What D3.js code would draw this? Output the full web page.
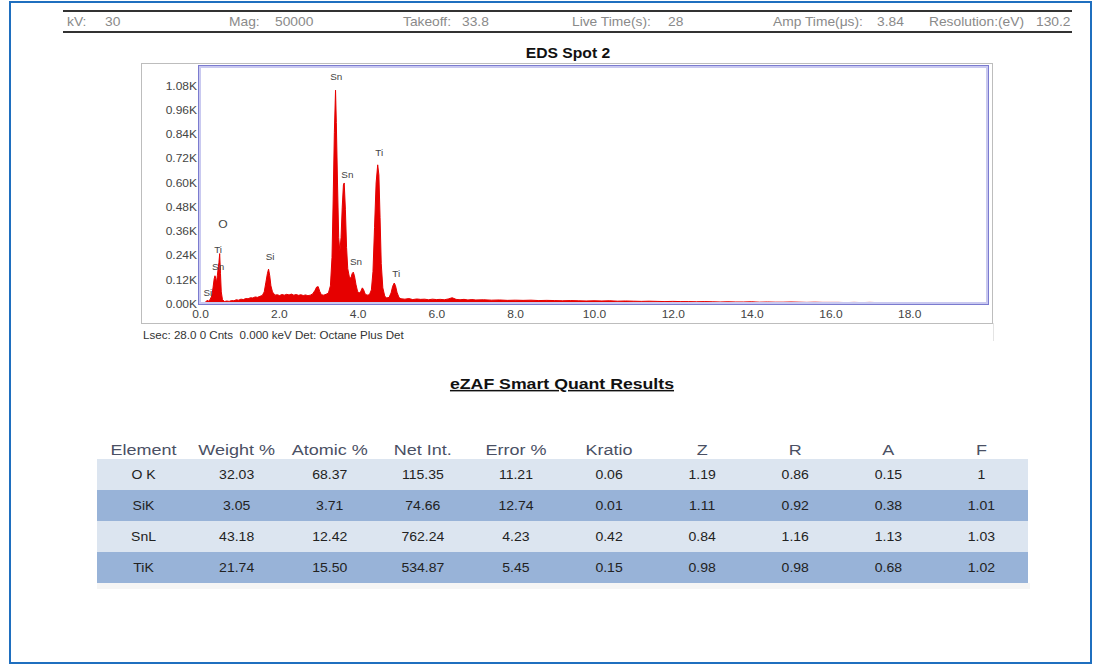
<!DOCTYPE html>
<html lang="en">
<head>
    <meta charset="UTF-8">
    <title>EDS Spot 2</title>
    <script src="https://d3js.org/d3.v7.min.js"></script>
    <style>
        body {
            margin: 0;
            padding: 0;
            background: #fff;
            font-family: "Liberation Sans", Arial, sans-serif;
        }
        .hdr { font-size: 12px; fill: #8a8a8a; }
        .title { font-size: 14px; font-weight: bold; fill: #111; text-anchor: middle; }
        .axis text { font-size: 10px; fill: #444; font-family: "Liberation Sans", Arial, sans-serif; }
        .peak { font-size: 9px; fill: #444; text-anchor: middle; }
        .foot { font-size: 10px; fill: #333; }
        .quant { font-size: 15px; font-weight: bold; fill: #111; text-anchor: middle; text-decoration: underline; }
        .th { font-size: 15px; fill: #4a5064; text-anchor: middle; }
        .td { font-size: 12px; fill: #222; text-anchor: middle; }
    </style>
</head>
<body>
    <div id="canvas"></div>
    <script>
        // header info line
        var headerItems = [
            ["kV:", "30"], ["Mag:", "50000"], ["Takeoff:", "33.8"],
            ["Live Time(s):", "28"], ["Amp Time(μs):", "3.84"], ["Resolution:(eV)", "130.2"]
        ];
        var headerX = [[67, 105], [229, 275], [403, 462], [572, 668], [773, 877], [929, 1036]];

        // spectrum (keV, counts)
        var spectrum = [
            [0.00, 0], [0.06, 3], [0.10, 6], [0.14, 9], [0.18, 18], [0.22, 14], [0.26, 24], [0.30, 40],
            [0.33, 80], [0.36, 125], [0.38, 140], [0.40, 128], [0.42, 105], [0.44, 140], [0.46, 175],
            [0.48, 205], [0.50, 250], [0.52, 150], [0.54, 60], [0.57, 22], [0.62, 12], [0.68, 15],
            [0.74, 13], [0.80, 17], [0.86, 16], [0.92, 21], [0.98, 19], [1.04, 24], [1.10, 22],
            [1.16, 27], [1.22, 26], [1.28, 31], [1.34, 30], [1.40, 35], [1.46, 33], [1.52, 38],
            [1.58, 42], [1.63, 60], [1.67, 105], [1.71, 150], [1.74, 173], [1.77, 140], [1.80, 90],
            [1.84, 60], [1.90, 44], [1.96, 46], [2.02, 42], [2.08, 47], [2.14, 44], [2.20, 48],
            [2.26, 45], [2.32, 49], [2.38, 44], [2.44, 47], [2.50, 43], [2.56, 46], [2.62, 42],
            [2.68, 45], [2.74, 41], [2.80, 44], [2.86, 50], [2.92, 68], [2.96, 84], [3.00, 86],
            [3.04, 62], [3.08, 46], [3.14, 44], [3.20, 48], [3.26, 55], [3.31, 90], [3.35, 230],
            [3.38, 520], [3.41, 850], [3.44, 1060], [3.46, 900], [3.49, 600], [3.52, 330],
            [3.55, 260], [3.58, 330], [3.61, 480], [3.64, 590], [3.66, 600], [3.69, 470],
            [3.72, 280], [3.75, 175], [3.79, 135], [3.83, 128], [3.86, 150], [3.89, 158],
            [3.92, 140], [3.96, 95], [4.00, 62], [4.04, 55], [4.08, 62], [4.12, 80], [4.15, 72],
            [4.19, 50], [4.24, 44], [4.30, 46], [4.35, 70], [4.39, 160], [4.43, 380], [4.47, 600],
            [4.51, 690], [4.54, 640], [4.57, 430], [4.60, 200], [4.64, 80], [4.69, 38], [4.74, 30],
            [4.80, 33], [4.85, 55], [4.89, 88], [4.93, 104], [4.96, 92], [5.00, 58], [5.05, 32],
            [5.10, 26], [5.20, 24], [5.30, 27], [5.40, 22], [5.50, 25], [5.60, 23], [5.70, 24],
            [5.80, 21], [5.90, 24], [6.00, 22], [6.10, 23], [6.20, 21], [6.30, 25], [6.40, 31],
            [6.50, 23], [6.60, 21], [6.70, 23], [6.80, 20], [6.90, 22], [7.00, 20], [7.20, 21],
            [7.40, 19], [7.60, 20], [7.80, 18], [8.00, 19], [8.20, 18], [8.40, 19], [8.60, 17],
            [8.80, 18], [9.00, 17], [9.20, 16], [9.40, 17], [9.60, 16], [9.80, 15], [10.00, 16],
            [10.20, 15], [10.40, 16], [10.60, 14], [10.80, 15], [11.00, 14], [11.20, 13],
            [11.40, 14], [11.60, 13], [11.80, 12], [12.00, 13], [12.20, 12], [12.40, 12],
            [12.60, 11], [12.80, 12], [13.00, 11], [13.20, 10], [13.40, 11], [13.60, 10],
            [13.80, 10], [14.00, 11], [14.20, 9], [14.40, 10], [14.60, 9], [14.80, 9], [15.00, 10],
            [15.20, 9], [15.40, 8], [15.60, 9], [15.80, 8], [16.00, 8], [16.20, 8], [16.40, 7],
            [16.60, 8], [16.80, 7], [17.00, 8], [17.20, 7], [17.40, 7], [17.60, 6], [17.80, 7],
            [18.00, 6], [18.20, 6], [18.40, 7], [18.60, 6], [18.80, 5], [19.00, 6], [19.20, 5],
            [19.40, 5], [19.60, 5], [19.80, 4], [20.00, 4]
        ];

        // peak labels (element, keV, counts at label centre)
        var peakLabels = [
            ["Si", 0.20, 55], ["Sn", 0.46, 183], ["Ti", 0.46, 267], ["O", 0.58, 396],
            ["Si", 1.78, 233], ["Sn", 3.46, 1124], ["Sn", 3.74, 639], ["Sn", 3.96, 208],
            ["Ti", 4.55, 748], ["Ti", 4.98, 149]
        ];

        var yTicks = [0, 120, 240, 360, 480, 600, 720, 840, 960, 1080];
        var xTicks = [0, 2, 4, 6, 8, 10, 12, 14, 16, 18];

        // quant table
        var columns = ["Element", "Weight %", "Atomic %", "Net Int.", "Error %", "Kratio", "Z", "R", "A", "F"];
        var tableRows = [
            ["O K", "32.03", "68.37", "115.35", "11.21", "0.06", "1.19", "0.86", "0.15", "1"],
            ["SiK", "3.05", "3.71", "74.66", "12.74", "0.01", "1.11", "0.92", "0.38", "1.01"],
            ["SnL", "43.18", "12.42", "762.24", "4.23", "0.42", "0.84", "1.16", "1.13", "1.03"],
            ["TiK", "21.74", "15.50", "534.87", "5.45", "0.15", "0.98", "0.98", "0.68", "1.02"]
        ];

        // the scanned report is a bit wider than Arial, so text gets stretched sideways
        function stretch(sx) {
            return function(sel) {
                sel.attr("transform", function() {
                    var tx = +this.getAttribute("x") || 0, ty = +this.getAttribute("y") || 0;
                    return "translate(" + tx + "," + ty + ") scale(" + sx + ",1) translate(" + (-tx) + "," + (-ty) + ")";
                });
            };
        }

        var W = 1094, H = 666;
        var svg = d3.select("#canvas").append("svg")
            .attr("width", W)
            .attr("height", H);

        // outer blue frame
        svg.append("rect")
            .attr("x", 10).attr("y", 2)
            .attr("width", 1081).attr("height", 661)
            .style("fill", "none")
            .style("stroke", "#1f6fbf")
            .style("stroke-width", 2);

        // header bar
        [11, 32].forEach(function(yy) {
            svg.append("line")
                .attr("x1", 63).attr("x2", 1072)
                .attr("y1", yy).attr("y2", yy)
                .style("stroke", "#333")
                .style("stroke-width", 2);
        });
        headerItems.forEach(function(d, i) {
            svg.append("text").attr("class", "hdr")
                .attr("x", headerX[i][0]).attr("y", 26).text(d[0])
                .call(stretch(1.15));
            svg.append("text").attr("class", "hdr")
                .attr("x", headerX[i][1]).attr("y", 26).text(d[1])
                .call(stretch(1.15));
        });

        svg.append("text").attr("class", "title")
            .attr("x", 568).attr("y", 58)
            .text("EDS Spot 2")
            .call(stretch(1.12));

        // spectrum box
        svg.append("rect")
            .attr("x", 141.5).attr("y", 63.5)
            .attr("width", 851).attr("height", 260)
            .style("fill", "none")
            .style("stroke", "#bdbdbd");
        svg.append("line")
            .attr("x1", 993.5).attr("x2", 993.5)
            .attr("y1", 323).attr("y2", 341)
            .style("stroke", "#e4e4e4");

        var x = d3.scaleLinear().domain([0, 20]).range([200, 988]);
        var y = d3.scaleLinear().domain([0, 1180]).range([304, 66]);

        var area = d3.area()
            .x(function(d) { return x(d[0]); })
            .y0(y(0))
            .y1(function(d) { return y(d[1]); });

        svg.append("path")
            .datum(spectrum)
            .attr("d", area)
            .style("fill", "#e60000")
            .style("stroke", "#e60000")
            .style("stroke-width", 1);

        // plot frame (double lavender line)
        svg.append("rect")
            .attr("x", 200).attr("y", 67)
            .attr("width", 787).attr("height", 236)
            .style("fill", "none")
            .style("stroke", "#c9c9f0")
            .style("stroke-width", 2);
        svg.append("rect")
            .attr("x", 198.5).attr("y", 65.5)
            .attr("width", 790).attr("height", 239)
            .style("fill", "none")
            .style("stroke", "#7b7bcf")
            .style("stroke-width", 1);

        svg.append("g")
            .attr("class", "axis")
            .attr("transform", "translate(198,0)")
            .call(d3.axisLeft(y).tickValues(yTicks).tickSize(0).tickPadding(1)
                .tickFormat(function(d) { return (d / 1000).toFixed(2) + "K"; }))
            .call(function(g) { g.select(".domain").remove(); })
            .selectAll("text").call(stretch(1.2));

        svg.append("g")
            .attr("class", "axis")
            .attr("transform", "translate(0,304)")
            .call(d3.axisBottom(x).tickValues(xTicks).tickSize(0).tickPadding(7)
                .tickFormat(function(d) { return d.toFixed(1); }))
            .call(function(g) { g.select(".domain").remove(); })
            .selectAll("text").call(stretch(1.2));

        svg.selectAll("text.peak")
            .data(peakLabels)
            .enter().append("text")
            .attr("class", "peak")
            .attr("x", function(d) { return x(d[1]); })
            .attr("y", function(d) { return y(d[2]); })
            .attr("dy", "0.35em")
            .style("font-size", function(d) { return d[0] === "O" ? "11px" : "9px"; })
            .text(function(d) { return d[0]; })
            .call(stretch(1.1));

        svg.append("text").attr("class", "foot")
            .attr("x", 143).attr("y", 339)
            .attr("xml:space", "preserve")
            .text("Lsec: 28.0 0 Cnts  0.000 keV Det: Octane Plus Det")
            .call(stretch(1.16));

        svg.append("text").attr("class", "quant")
            .attr("x", 562).attr("y", 389)
            .text("eZAF Smart Quant Results")
            .call(stretch(1.18));

        // table
        var col = d3.scaleBand().domain(columns).range([97, 1028]);
        var row = d3.scaleBand().domain(d3.range(tableRows.length)).range([459, 583]);

        svg.append("rect")
            .attr("x", 97).attr("y", 583)
            .attr("width", 933).attr("height", 6)
            .style("fill", "#f5f5f5");

        svg.selectAll("rect.row")
            .data(tableRows)
            .enter().append("rect")
            .attr("class", "row")
            .attr("x", 97)
            .attr("y", function(d, i) { return row(i); })
            .attr("width", 931)
            .attr("height", row.bandwidth())
            .style("fill", function(d, i) { return i % 2 === 0 ? "#dce5f0" : "#98b3d8"; });

        svg.selectAll("text.th")
            .data(columns)
            .enter().append("text")
            .attr("class", "th")
            .attr("x", function(d) { return col(d) + col.bandwidth() / 2; })
            .attr("y", 455)
            .text(function(d) { return d; })
            .call(stretch(1.2));

        tableRows.forEach(function(r, i) {
            svg.selectAll(null)
                .data(r)
                .enter().append("text")
                .attr("class", "td")
                .attr("x", function(d, j) { return col(columns[j]) + col.bandwidth() / 2; })
                .attr("y", row(i) + row.bandwidth() / 2)
                .attr("dy", "0.35em")
                .text(function(d) { return d; })
                .call(stretch(1.17));
        });
    </script>
</body>
</html>
